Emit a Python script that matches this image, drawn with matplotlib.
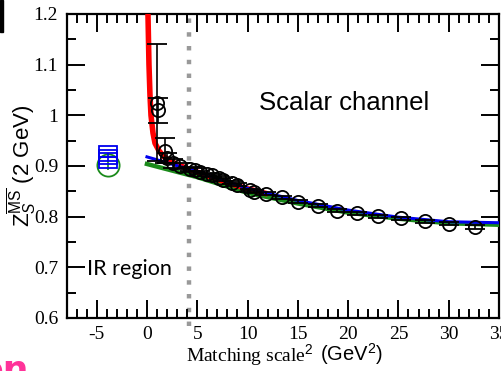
import matplotlib
matplotlib.use('Agg')
import matplotlib.pyplot as plt
from matplotlib.ticker import MultipleLocator
from matplotlib.patches import Rectangle

plt.rcParams['font.family'] = ['Liberation Serif', 'DejaVu Serif']
plt.rcParams['mathtext.fontset'] = 'custom'
plt.rcParams['mathtext.rm'] = 'Liberation Sans'
plt.rcParams['mathtext.it'] = 'Liberation Sans:italic'

# lattice data points (matching scale^2, Z_S, error)
pts_x = [1.0, 1.1, 1.8, 2.0, 2.6, 3.3, 4.3, 4.8, 5.3, 6.0, 6.5, 7.2, 7.6, 8.5, 9.0,
         10.2, 10.6, 11.8, 13.4, 15.0, 17.0, 18.9, 20.9, 23.0, 25.3, 27.6, 30.0, 32.6]
pts_y = [1.025, 1.01, 0.93, 0.915, 0.905, 0.900, 0.895, 0.892, 0.888, 0.884, 0.882,
         0.877, 0.873, 0.867, 0.863, 0.852, 0.849, 0.845, 0.838, 0.829, 0.822, 0.812,
         0.807, 0.801, 0.797, 0.791, 0.786, 0.780]
pts_err = [0.115, 0.025, 0.025, 0.01, 0.008, 0.005, 0.004, 0.004, 0.003, 0.003, 0.003,
           0.003, 0.003, 0.003, 0.003, 0.003, 0.003, 0.003, 0.003, 0.003, 0.003, 0.003,
           0.003, 0.003, 0.003, 0.003, 0.003, 0.004]

# fit curves
red_x = [0.1, 0.2, 0.3, 0.4, 0.6, 0.8, 1.2, 1.7, 2.3, 3.0, 4.0, 5.0, 6.0, 8.0, 10.0, 12.0]
red_y = [1.20, 1.10, 1.04, 1.00, 0.965, 0.945, 0.930, 0.918, 0.910, 0.903, 0.895,
         0.888, 0.881, 0.867, 0.855, 0.845]
blue_x = [0, 5, 10, 15, 20, 25, 30, 35]
blue_y = [0.918, 0.889, 0.856, 0.832, 0.813, 0.799, 0.790, 0.788]
green_x = [0, 5, 10, 15, 20, 25, 30, 35]
green_y = [0.904, 0.878, 0.847, 0.826, 0.808, 0.796, 0.787, 0.784]

# IR region extrapolated values
ir_x = -3.9
ir_blue = [0.922, 0.914]
ir_green = 0.902

cut_x = 4.2

fig = plt.figure(figsize=(5.01, 3.71), dpi=100)
ax = fig.add_axes([66.5 / 501, 53 / 371, 432.5 / 501, 304 / 371])

ax.plot([cut_x, cut_x], [0.585, 1.2], color='#999999', lw=3.2,
        linestyle=(0, (1.0, 2.1)), clip_on=False, zorder=1)

ax.plot(green_x, green_y, color='#1a8a1a', lw=3.2, zorder=3)
ax.plot(red_x, red_y, color='#ff0000', lw=4, zorder=4, solid_capstyle='butt')
ax.plot(blue_x, blue_y, color='#0000ee', lw=2.2, zorder=5)

ax.errorbar(pts_x, pts_y, yerr=pts_err, fmt='o', mfc='none', mec='black', mew=1.3,
            ms=9.5, ecolor='black', elinewidth=1.2, capsize=7, capthick=1.2, zorder=6)

ax.errorbar([ir_x], [ir_green], yerr=[0.01], fmt='o', mfc='none', mec='#1a8a1a',
            mew=1.3, ms=16, ecolor='#1a8a1a', elinewidth=1.2, zorder=6)
ax.errorbar([ir_x, ir_x], ir_blue, yerr=[0.004, 0.004], fmt='s', mfc='none',
            mec='#0000ee', mew=1.3, ms=13, ecolor='#0000ee', elinewidth=1.2,
            capsize=7, zorder=7)

ax.set_xlim(-8, 35)
ax.set_ylim(0.6, 1.2)
ax.xaxis.set_major_locator(MultipleLocator(5))
ax.xaxis.set_minor_locator(MultipleLocator(1))
ax.yaxis.set_major_locator(MultipleLocator(0.1))
ax.yaxis.set_minor_locator(MultipleLocator(0.05))
ax.tick_params(which='both', direction='in', top=True, right=True, width=1.4,
               labelsize=14, pad=6)
ax.tick_params(which='major', length=13)
ax.tick_params(which='minor', length=6.5)
ax.set_xticks(range(-5, 36, 5))
ax.set_xticklabels(['-5', '0', '5', '10', '15', '20', '25', '30', '35'])
ax.set_yticks([0.6, 0.7, 0.8, 0.9, 1.0, 1.1, 1.2])
ax.set_yticklabels(['0.6', '0.7', '0.8', '0.9', '1', '1.1', '1.2'])
for sp in ax.spines.values():
    sp.set_linewidth(1.6)

ax.text(11.1, 1.025, 'Scalar channel', family='Liberation Sans', fontsize=18.5,
        va='center', ha='left')
ax.text(-6.0, 0.697, 'IR region', family='Lato', fontsize=15.5, va='center', ha='left')

fig.text(22 / 501, 1 - 166 / 371, r'$\mathrm{Z}_S^{\overline{\mathrm{MS}}}$ (2 GeV)',
         rotation=90, ha='center', va='center', family='Liberation Sans', fontsize=16)
fig.text(186 / 501, 1 - 361 / 371, r'Matching scale$^2$', family='Liberation Serif',
         fontsize=14, ha='left', va='baseline')
fig.text(320 / 501, 1 - 361 / 371, r'(GeV$^2$)', family='Liberation Sans',
         fontsize=14.5, ha='left', va='baseline')

# slide remnants
fig.text(29 / 501, 1 - 380 / 371, 'on', color='#ff3399', fontweight='bold',
         family='DejaVu Sans', fontsize=26, ha='right', va='baseline')
fig.patches.append(Rectangle((0, 1 - 32 / 371), 3 / 501, 32 / 371,
                             transform=fig.transFigure, color='black'))

fig.savefig('out.png', dpi=100)
